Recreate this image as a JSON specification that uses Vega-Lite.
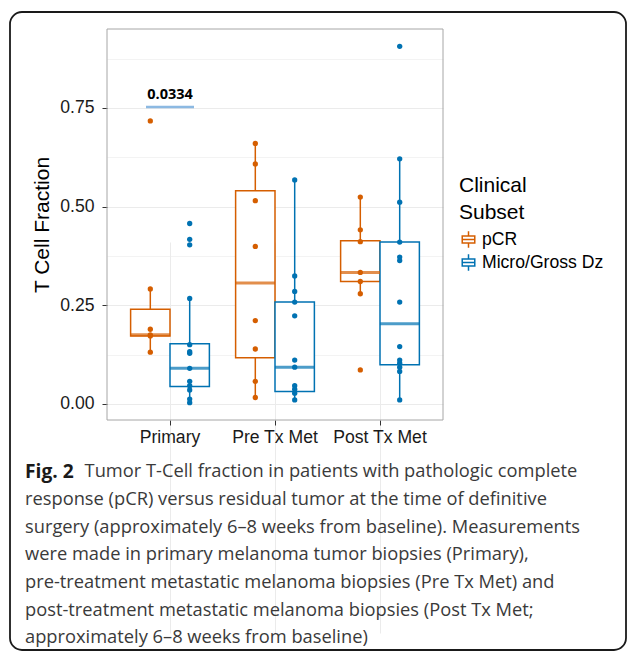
{
  "$schema": "https://vega.github.io/schema/vega-lite/v6.json",
  "width": 616,
  "height": 638,
  "autosize": {"type": "none"},
  "padding": {"left": 10, "top": 12, "right": 1, "bottom": 1},
  "background": "white",
  "config": {
    "view": {"stroke": "#1a1a1a", "strokeWidth": 1.8, "cornerRadius": 12},
    "font": "Liberation Sans",
    "legend": {
      "orient": "none", "legendX": 449, "legendY": 163,
      "titleFont": "Liberation Sans", "titleFontSize": 21, "titleFontWeight": "normal", "titleColor": "#000000", "titleLineHeight": 27, "titlePadding": 7,
      "labelFont": "Liberation Sans", "labelFontSize": 17.6, "labelColor": "#000000", "labelOffset": 4,
      "symbolSize": 280, "rowPadding": 0
    }
  },
  "title": {
    "text": "Fig. 2",
    "subtitle": [
      "\u200b\u2002\u2002\u2002\u2002\u2002\u2002\u00a0Tumor T-Cell fraction in patients with pathologic complete",
      "response (pCR) versus residual tumor at the time of definitive",
      "surgery (approximately 6–8 weeks from baseline). Measurements",
      "were made in primary melanoma tumor biopsies (Primary),",
      "pre-treatment metastatic melanoma biopsies (Pre Tx Met) and",
      "post-treatment metastatic melanoma biopsies (Post Tx Met;",
      "approximately 6–8 weeks from baseline)"
    ],
    "orient": "bottom",
    "anchor": "start",
    "frame": "group",
    "offset": -187,
    "dx": 15,
    "baseline": "top",
    "font": "Open Sans",
    "fontSize": 19.2,
    "fontWeight": "bold",
    "color": "#1a1a1a",
    "subtitleFont": "Open Sans",
    "subtitleFontSize": 18.3,
    "subtitleColor": "#3a3a3a",
    "subtitleLineHeight": 27.7,
    "subtitlePadding": -19
  },
  "datasets": {
    "points": [
      {"group": "Primary", "subset": "pCR", "value": 0.717},
      {"group": "Primary", "subset": "pCR", "value": 0.291},
      {"group": "Primary", "subset": "pCR", "value": 0.189},
      {"group": "Primary", "subset": "pCR", "value": 0.175},
      {"group": "Primary", "subset": "pCR", "value": 0.172},
      {"group": "Primary", "subset": "pCR", "value": 0.131},
      {"group": "Primary", "subset": "Micro/Gross Dz", "value": 0.457},
      {"group": "Primary", "subset": "Micro/Gross Dz", "value": 0.417},
      {"group": "Primary", "subset": "Micro/Gross Dz", "value": 0.403},
      {"group": "Primary", "subset": "Micro/Gross Dz", "value": 0.267},
      {"group": "Primary", "subset": "Micro/Gross Dz", "value": 0.150},
      {"group": "Primary", "subset": "Micro/Gross Dz", "value": 0.132},
      {"group": "Primary", "subset": "Micro/Gross Dz", "value": 0.128},
      {"group": "Primary", "subset": "Micro/Gross Dz", "value": 0.090},
      {"group": "Primary", "subset": "Micro/Gross Dz", "value": 0.057},
      {"group": "Primary", "subset": "Micro/Gross Dz", "value": 0.046},
      {"group": "Primary", "subset": "Micro/Gross Dz", "value": 0.035},
      {"group": "Primary", "subset": "Micro/Gross Dz", "value": 0.012},
      {"group": "Primary", "subset": "Micro/Gross Dz", "value": 0.003},
      {"group": "Pre Tx Met", "subset": "pCR", "value": 0.660},
      {"group": "Pre Tx Met", "subset": "pCR", "value": 0.608},
      {"group": "Pre Tx Met", "subset": "pCR", "value": 0.515},
      {"group": "Pre Tx Met", "subset": "pCR", "value": 0.399},
      {"group": "Pre Tx Met", "subset": "pCR", "value": 0.211},
      {"group": "Pre Tx Met", "subset": "pCR", "value": 0.139},
      {"group": "Pre Tx Met", "subset": "pCR", "value": 0.057},
      {"group": "Pre Tx Met", "subset": "pCR", "value": 0.016},
      {"group": "Pre Tx Met", "subset": "Micro/Gross Dz", "value": 0.5675},
      {"group": "Pre Tx Met", "subset": "Micro/Gross Dz", "value": 0.324},
      {"group": "Pre Tx Met", "subset": "Micro/Gross Dz", "value": 0.285},
      {"group": "Pre Tx Met", "subset": "Micro/Gross Dz", "value": 0.258},
      {"group": "Pre Tx Met", "subset": "Micro/Gross Dz", "value": 0.223},
      {"group": "Pre Tx Met", "subset": "Micro/Gross Dz", "value": 0.111},
      {"group": "Pre Tx Met", "subset": "Micro/Gross Dz", "value": 0.093},
      {"group": "Pre Tx Met", "subset": "Micro/Gross Dz", "value": 0.046},
      {"group": "Pre Tx Met", "subset": "Micro/Gross Dz", "value": 0.037},
      {"group": "Pre Tx Met", "subset": "Micro/Gross Dz", "value": 0.027},
      {"group": "Pre Tx Met", "subset": "Micro/Gross Dz", "value": 0.010},
      {"group": "Post Tx Met", "subset": "pCR", "value": 0.524},
      {"group": "Post Tx Met", "subset": "pCR", "value": 0.441},
      {"group": "Post Tx Met", "subset": "pCR", "value": 0.411},
      {"group": "Post Tx Met", "subset": "pCR", "value": 0.333},
      {"group": "Post Tx Met", "subset": "pCR", "value": 0.310},
      {"group": "Post Tx Met", "subset": "pCR", "value": 0.279},
      {"group": "Post Tx Met", "subset": "pCR", "value": 0.086},
      {"group": "Post Tx Met", "subset": "Micro/Gross Dz", "value": 0.906},
      {"group": "Post Tx Met", "subset": "Micro/Gross Dz", "value": 0.621},
      {"group": "Post Tx Met", "subset": "Micro/Gross Dz", "value": 0.511},
      {"group": "Post Tx Met", "subset": "Micro/Gross Dz", "value": 0.410},
      {"group": "Post Tx Met", "subset": "Micro/Gross Dz", "value": 0.372},
      {"group": "Post Tx Met", "subset": "Micro/Gross Dz", "value": 0.363},
      {"group": "Post Tx Met", "subset": "Micro/Gross Dz", "value": 0.258},
      {"group": "Post Tx Met", "subset": "Micro/Gross Dz", "value": 0.145},
      {"group": "Post Tx Met", "subset": "Micro/Gross Dz", "value": 0.111},
      {"group": "Post Tx Met", "subset": "Micro/Gross Dz", "value": 0.103},
      {"group": "Post Tx Met", "subset": "Micro/Gross Dz", "value": 0.093},
      {"group": "Post Tx Met", "subset": "Micro/Gross Dz", "value": 0.082},
      {"group": "Post Tx Met", "subset": "Micro/Gross Dz", "value": 0.010}
    ],
    "boxes": [
      {"group": "Primary", "subset": "pCR", "lo": 0.131, "q1": 0.172, "med": 0.175, "q3": 0.240, "hi": 0.291},
      {"group": "Primary", "subset": "Micro/Gross Dz", "lo": 0.003, "q1": 0.044, "med": 0.090, "q3": 0.152, "hi": 0.267},
      {"group": "Pre Tx Met", "subset": "pCR", "lo": 0.016, "q1": 0.117, "med": 0.306, "q3": 0.540, "hi": 0.660},
      {"group": "Pre Tx Met", "subset": "Micro/Gross Dz", "lo": 0.010, "q1": 0.031, "med": 0.093, "q3": 0.258, "hi": 0.5675},
      {"group": "Post Tx Met", "subset": "pCR", "lo": 0.279, "q1": 0.310, "med": 0.333, "q3": 0.413, "hi": 0.524},
      {"group": "Post Tx Met", "subset": "Micro/Gross Dz", "lo": 0.010, "q1": 0.099, "med": 0.203, "q3": 0.410, "hi": 0.621}
    ],
    "annot": [{"group": "Primary", "y": 0.752, "label": "0.0334"}],
    "panel": [{"x0": 0, "x1": 1, "y0": 0, "y1": 1}]
  },
  "resolve": {"scale": {"x": "independent", "y": "independent"}},
  "layer": [
    {
      "layer": [
        {
          "data": {"name": "boxes"},
          "mark": {"type": "bar", "filled": false, "fill": "white", "strokeWidth": 1.5},
          "encoding": {
            "x": {
              "field": "group", "type": "nominal",
              "scale": {"domain": ["Primary", "Pre Tx Met", "Post Tx Met"], "range": [97, 433], "paddingInner": 0, "paddingOuter": 0.1},
              "axis": {
                "orient": "bottom", "offset": -230, "title": null, "labelAngle": 0,
                "labelFont": "Liberation Sans", "labelFontSize": 17.6, "labelColor": "#1a1a1a", "labelPadding": 3,
                "tickSize": 5, "tickColor": "#333333", "tickWidth": 1, "domain": false,
                "grid": true, "gridColor": "#ebebeb", "gridWidth": 1
              }
            },
            "xOffset": {"field": "subset", "type": "nominal", "scale": {"domain": ["pCR", "Micro/Gross Dz"], "paddingInner": 0, "paddingOuter": 0.333}},
            "y": {
              "field": "q1", "type": "quantitative",
              "scale": {"domain": [-0.041, 0.95], "range": [408, 17], "nice": false, "zero": false},
              "axis": {
                "orient": "left", "offset": -97, "title": "T Cell Fraction",
                "values": [0, 0.125, 0.25, 0.375, 0.5, 0.625, 0.75, 0.875],
                "labelExpr": "datum.value % 0.25 === 0 ? format(datum.value, '.2f') : ''",
                "labelOverlap": false,
                "labelFont": "Liberation Sans", "labelFontSize": 17.6, "labelColor": "#1a1a1a", "labelPadding": 8,
                "tickSize": 5, "tickColor": "#333333",
                "tickOpacity": {"condition": {"test": "datum.value % 0.25 !== 0", "value": 0}, "value": 1},
                "domain": false,
                "grid": true, "gridColor": "#ebebeb",
                "gridWidth": {"condition": {"test": "datum.value % 0.25 !== 0", "value": 0.6}, "value": 1},
                "titleFont": "Liberation Sans", "titleFontSize": 21, "titleFontWeight": "normal", "titleColor": "#000000", "titlePadding": 7
              }
            },
            "y2": {"field": "q3"},
            "color": {
              "field": "subset", "type": "nominal",
              "scale": {"domain": ["pCR", "Micro/Gross Dz"], "range": ["#D55E00", "#0072B2"]},
              "legend": {
                "title": ["Clinical", "Subset"],
                "encode": {"symbols": {"update": {"shape": {"value": "M-0.75,-0.42H0.75V0.42H-0.75Z M-0.75,0H0.75 M0,-1V-0.42 M0,0.42V1"}, "fill": {"value": "white"}, "fillOpacity": {"value": 0}, "stroke": {"scale": "color", "field": "value"}, "strokeWidth": {"value": 1.5}, "strokeOpacity": {"value": 1}, "opacity": {"value": 1}}}}
              }
            }
          }
        },
        {
          "data": {"name": "boxes"},
          "mark": {"type": "rule", "strokeWidth": 1.5},
          "encoding": {
            "x": {"field": "group", "type": "nominal"},
            "xOffset": {"field": "subset", "type": "nominal"},
            "y": {"field": "lo", "type": "quantitative"},
            "y2": {"field": "q1"},
            "color": {
              "field": "subset", "type": "nominal",
              "legend": {
                "title": ["Clinical", "Subset"],
                "encode": {"symbols": {"update": {"shape": {"value": "M-0.75,-0.42H0.75V0.42H-0.75Z M-0.75,0H0.75 M0,-1V-0.42 M0,0.42V1"}, "fill": {"value": "white"}, "fillOpacity": {"value": 0}, "stroke": {"scale": "color", "field": "value"}, "strokeWidth": {"value": 1.5}, "strokeOpacity": {"value": 1}, "opacity": {"value": 1}}}}
              }
            }
          }
        },
        {
          "data": {"name": "boxes"},
          "mark": {"type": "rule", "strokeWidth": 1.5},
          "encoding": {
            "x": {"field": "group", "type": "nominal"},
            "xOffset": {"field": "subset", "type": "nominal"},
            "y": {"field": "q3", "type": "quantitative"},
            "y2": {"field": "hi"},
            "color": {
              "field": "subset", "type": "nominal",
              "legend": {
                "title": ["Clinical", "Subset"],
                "encode": {"symbols": {"update": {"shape": {"value": "M-0.75,-0.42H0.75V0.42H-0.75Z M-0.75,0H0.75 M0,-1V-0.42 M0,0.42V1"}, "fill": {"value": "white"}, "fillOpacity": {"value": 0}, "stroke": {"scale": "color", "field": "value"}, "strokeWidth": {"value": 1.5}, "strokeOpacity": {"value": 1}, "opacity": {"value": 1}}}}
              }
            }
          }
        },
        {
          "data": {"name": "boxes"},
          "mark": {"type": "tick", "thickness": 3, "size": 39.4},
          "encoding": {
            "x": {"field": "group", "type": "nominal"},
            "xOffset": {"field": "subset", "type": "nominal"},
            "y": {"field": "med", "type": "quantitative"},
            "color": {
              "field": "subset", "type": "nominal",
              "legend": {
                "title": ["Clinical", "Subset"],
                "encode": {"symbols": {"update": {"shape": {"value": "M-0.75,-0.42H0.75V0.42H-0.75Z M-0.75,0H0.75 M0,-1V-0.42 M0,0.42V1"}, "fill": {"value": "white"}, "fillOpacity": {"value": 0}, "stroke": {"scale": "color", "field": "value"}, "strokeWidth": {"value": 1.5}, "strokeOpacity": {"value": 1}, "opacity": {"value": 1}}}}
              }
            }
          }
        },
        {
          "data": {"name": "points"},
          "mark": {"type": "point", "filled": true, "opacity": 1, "size": 28},
          "encoding": {
            "x": {"field": "group", "type": "nominal"},
            "xOffset": {"field": "subset", "type": "nominal"},
            "y": {"field": "value", "type": "quantitative"},
            "color": {
              "field": "subset", "type": "nominal",
              "legend": {
                "title": ["Clinical", "Subset"],
                "encode": {"symbols": {"update": {"shape": {"value": "M-0.75,-0.42H0.75V0.42H-0.75Z M-0.75,0H0.75 M0,-1V-0.42 M0,0.42V1"}, "fill": {"value": "white"}, "fillOpacity": {"value": 0}, "stroke": {"scale": "color", "field": "value"}, "strokeWidth": {"value": 1.5}, "strokeOpacity": {"value": 1}, "opacity": {"value": 1}}}}
              }
            }
          }
        },
        {
          "data": {"name": "annot"},
          "mark": {"type": "tick", "thickness": 2.5, "size": 48, "color": "#5b9bd5"},
          "encoding": {
            "x": {"field": "group", "type": "nominal"},
            "y": {"field": "y", "type": "quantitative"}
          }
        },
        {
          "data": {"name": "annot"},
          "mark": {"type": "text", "font": "Open Sans", "fontWeight": "bold", "fontSize": 14.5, "baseline": "bottom", "dy": -5, "color": "#000000"},
          "encoding": {
            "x": {"field": "group", "type": "nominal"},
            "y": {"field": "y", "type": "quantitative"},
            "text": {"field": "label"}
          }
        }
      ]
    },
    {
      "data": {"name": "panel"},
      "mark": {"type": "rect", "fill": "transparent", "stroke": "#a6a6a6", "strokeWidth": 1},
      "encoding": {
        "x": {"field": "x0", "type": "quantitative", "scale": {"domain": [0, 1], "range": [97, 433]}, "axis": null},
        "x2": {"field": "x1"},
        "y": {"field": "y0", "type": "quantitative", "scale": {"domain": [0, 1], "range": [408, 17]}, "axis": null},
        "y2": {"field": "y1"}
      }
    }
  ]
}
